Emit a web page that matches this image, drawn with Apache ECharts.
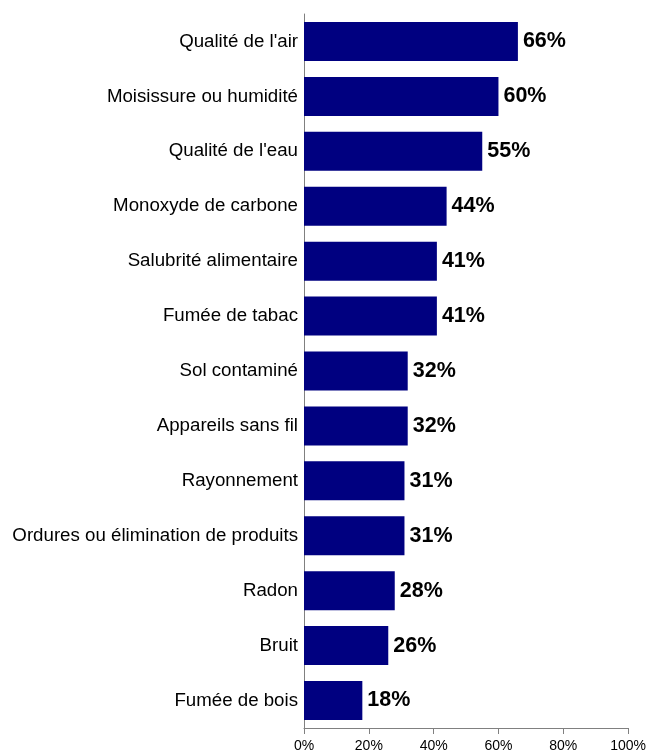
<!DOCTYPE html>
<html>
<head>
<meta charset="utf-8">
<script src="https://cdn.jsdelivr.net/npm/echarts@6/dist/echarts.min.js"></script>
<style>
  html, body { margin: 0; padding: 0; background: #fff; }
  #chart { width: 649px; height: 755px; }
</style>
</head>
<body>
<div id="chart"></div>
<script>
  // categories top to bottom
  const categories = [
    "Qualité de l'air",
    "Moisissure ou humidité",
    "Qualité de l'eau",
    "Monoxyde de carbone",
    "Salubrité alimentaire",
    "Fumée de tabac",
    "Sol contaminé",
    "Appareils sans fil",
    "Rayonnement",
    "Ordures ou élimination de produits",
    "Radon",
    "Bruit",
    "Fumée de bois"
  ];
  const values = [66, 60, 55, 44, 41, 41, 32, 32, 31, 31, 28, 26, 18];
  const xTicks = [0, 20, 40, 60, 80, 100];

  const chart = echarts.init(document.getElementById("chart"));
  const option = {
    animation: false,
    grid: { left: 304, right: 19, top: 14, bottom: 27, containLabel: false },
    xAxis: {
      type: "value",
      min: 0,
      max: 100,
      interval: 20,
      axisLine: { show: true, lineStyle: { color: "#808080", width: 1 } },
      axisTick: { show: true, length: 6, lineStyle: { color: "#808080" } },
      splitLine: { show: false },
      axisLabel: {
        margin: 11,
        fontFamily: "Liberation Sans, Arial",
        fontSize: 14,
        color: "#000",
        formatter: (v) => xTicks.includes(v) ? v + "%" : ""
      }
    },
    yAxis: {
      type: "category",
      inverse: true,
      data: categories,
      axisLine: { show: true, lineStyle: { color: "#808080", width: 1 } },
      axisTick: { show: false },
      axisLabel: {
        margin: 6,
        fontFamily: "Liberation Sans, Arial",
        fontSize: 18.7,
        color: "#000"
      }
    },
    series: [
      {
        type: "bar",
        data: values,
        barCategoryGap: "29%",
        itemStyle: { color: "#000080" },
        label: {
          show: true,
          position: "right",
          distance: 5,
          formatter: "{c}%",
          fontFamily: "Liberation Sans, Arial",
          fontWeight: "bold",
          fontSize: 21.5,
          color: "#000"
        }
      }
    ]
  };
  chart.setOption(option);
</script>
</body>
</html>
